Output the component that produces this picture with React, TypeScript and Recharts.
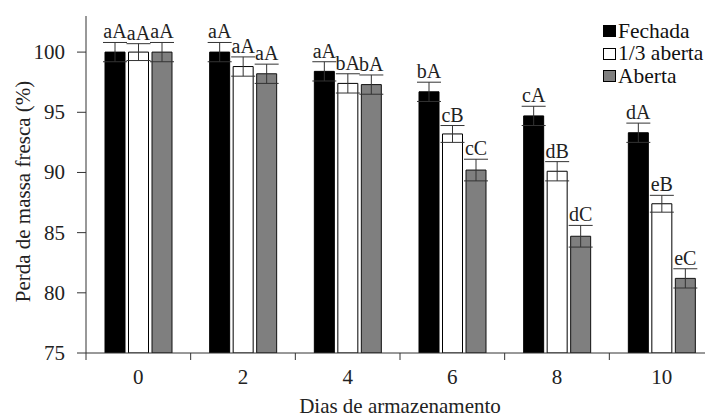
import { BarChart, Bar, XAxis, YAxis, ErrorBar, LabelList, Legend } from "recharts";

// dados
const dias = ["0", "2", "4", "6", "8", "10"];

const fechada = [100, 100, 98.4, 96.7, 94.7, 93.3];
const umTercoAberta = [100, 98.8, 97.4, 93.2, 90.1, 87.4];
const aberta = [100, 98.2, 97.3, 90.2, 84.7, 81.2];

const erroFechada = [0.8, 0.8, 0.8, 0.8, 0.8, 0.8];
const erroUmTerco = [0.7, 0.8, 0.8, 0.7, 0.8, 0.7];
const erroAberta = [0.8, 0.8, 0.8, 0.9, 0.9, 0.8];

const letrasFechada = ["aA", "aA", "aA", "bA", "cA", "dA"];
const letrasUmTerco = ["aA", "aA", "bA", "cB", "dB", "eB"];
const letrasAberta = ["aA", "aA", "bA", "cC", "dC", "eC"];

const yTicks = [75, 80, 85, 90, 95, 100];

const data = dias.map((dia, i) => ({
  dia,
  fechada: fechada[i],
  umTerco: umTercoAberta[i],
  aberta: aberta[i],
  eF: erroFechada[i],
  eU: erroUmTerco[i],
  eA: erroAberta[i],
  lF: letrasFechada[i],
  lU: letrasUmTerco[i],
  lA: letrasAberta[i],
}));

// layout
const W = 720;
const H = 417;
const M_TOP = 16;
const M_RIGHT = 6;
const Y_W = 86;
const X_H = 64;
const Y_MIN = 75;
const Y_MAX = 103;
const PLOT_BOTTOM = H - X_H;
const PX_PER_UNIT = (PLOT_BOTTOM - M_TOP) / (Y_MAX - Y_MIN);
const BAND = (W - Y_W - M_RIGHT) / dias.length;

const FONT = '"Liberation Serif", "Times New Roman", serif';
const INK = "#222";
const AXIS = "#333";

const makeLabel = (errs: number[]) => (props: any) => {
  const vb = props.viewBox ?? props;
  const x = Number(vb.x ?? props.x) + Number(vb.width ?? props.width) / 2;
  const y = Number(vb.y ?? props.y);
  const idx = props.index ?? 0;
  const top = y - errs[idx] * PX_PER_UNIT;
  return (
    <text x={x} y={top - 4} textAnchor="middle" fontSize={20} fill={INK} fontFamily={FONT}>
      {props.value}
    </text>
  );
};

const XTick = (props: any) => {
  const { x, payload } = props;
  const left = x - BAND / 2;
  return (
    <g>
      <line x1={left} x2={left} y1={PLOT_BOTTOM} y2={PLOT_BOTTOM + 7} stroke={AXIS} />
      <text x={x} y={PLOT_BOTTOM + 31} textAnchor="middle" fontSize={21} fill={INK} fontFamily={FONT}>
        {payload.value}
      </text>
    </g>
  );
};

const YTick = (props: any) => {
  const { y, payload } = props;
  return (
    <text x={Y_W - 21} y={y} dy={7} textAnchor="end" fontSize={21} fill={INK} fontFamily={FONT}>
      {payload.value}
    </text>
  );
};

const legendItems = [
  { name: "Fechada", fill: "#000" },
  { name: "1/3 aberta", fill: "#fff" },
  { name: "Aberta", fill: "#7f7f7f" },
];

const LegendBox = () => (
  <div style={{ fontFamily: FONT, fontSize: 21.5, color: "#111", whiteSpace: "nowrap" }}>
    {legendItems.map((it) => (
      <div key={it.name} style={{ display: "flex", alignItems: "center", height: 22.5 }}>
        <span
          style={{
            display: "inline-block",
            width: 11,
            height: 10,
            background: it.fill,
            border: "1px solid #000",
            marginRight: 2,
          }}
        />
        <span>{it.name}</span>
      </div>
    ))}
  </div>
);

export default function App() {
  return (
    <div
      style={{
        position: "absolute",
        left: 0,
        top: 0,
        width: 705,
        height: 417,
        overflow: "hidden",
        background: "#fff",
        fontFamily: FONT,
      }}
    >
      <BarChart
        width={W}
        height={H}
        data={data}
        margin={{ top: M_TOP, right: M_RIGHT, bottom: 0, left: 0 }}
        barCategoryGap={19}
        barGap={3.5}
      >
        <XAxis
          dataKey="dia"
          height={X_H}
          interval={0}
          axisLine={{ stroke: AXIS }}
          tickLine={false}
          tick={<XTick />}
          label={{
            content: (p: any) => {
              const vb = p.viewBox;
              return (
                <text x={vb.x + vb.width / 2} y={vb.y + 60} textAnchor="middle" fontSize={21} fill={INK} fontFamily={FONT}>
                  Dias de armazenamento
                </text>
              );
            },
          }}
        />
        <XAxis xAxisId="top" dataKey="dia" orientation="top" height={0} tick={false} tickLine={false} axisLine={{ stroke: AXIS }} />
        <YAxis
          width={Y_W}
          domain={[Y_MIN, Y_MAX]}
          ticks={yTicks}
          allowDataOverflow
          axisLine={{ stroke: AXIS }}
          tickLine={{ stroke: AXIS }}
          tickSize={9}
          tick={<YTick />}
          label={{
            content: (p: any) => {
              const vb = p.viewBox;
              const cx = vb.x + 23;
              const cy = vb.y + vb.height / 2 + 7;
              return (
                <text
                  x={cx}
                  y={cy}
                  transform={`rotate(-90 ${cx} ${cy})`}
                  textAnchor="middle"
                  dominantBaseline="central"
                  fontSize={21}
                  fill={INK}
                  fontFamily={FONT}
                >
                  Perda de massa fresca (%)
                </text>
              );
            },
          }}
        />
        <Legend
          layout="vertical"
          align="center"
          verticalAlign="middle"
          content={<LegendBox />}
          wrapperStyle={{ position: "absolute", left: 603, top: 20, width: "auto", height: "auto" }}
        />
        <Bar dataKey="fechada" name="Fechada" fill="#000" stroke="#000" strokeWidth={1} isAnimationActive={false}>
          <ErrorBar dataKey="eF" width={12} stroke={AXIS} strokeWidth={1} />
          <LabelList dataKey="lF" content={makeLabel(erroFechada)} />
        </Bar>
        <Bar dataKey="umTerco" name="1/3 aberta" fill="#fff" stroke="#000" strokeWidth={1} isAnimationActive={false}>
          <ErrorBar dataKey="eU" width={12} stroke={AXIS} strokeWidth={1} />
          <LabelList dataKey="lU" content={makeLabel(erroUmTerco)} />
        </Bar>
        <Bar dataKey="aberta" name="Aberta" fill="#7f7f7f" stroke="#111" strokeWidth={1} isAnimationActive={false}>
          <ErrorBar dataKey="eA" width={12} stroke={AXIS} strokeWidth={1} />
          <LabelList dataKey="lA" content={makeLabel(erroAberta)} />
        </Bar>
      </BarChart>
    </div>
  );
}
